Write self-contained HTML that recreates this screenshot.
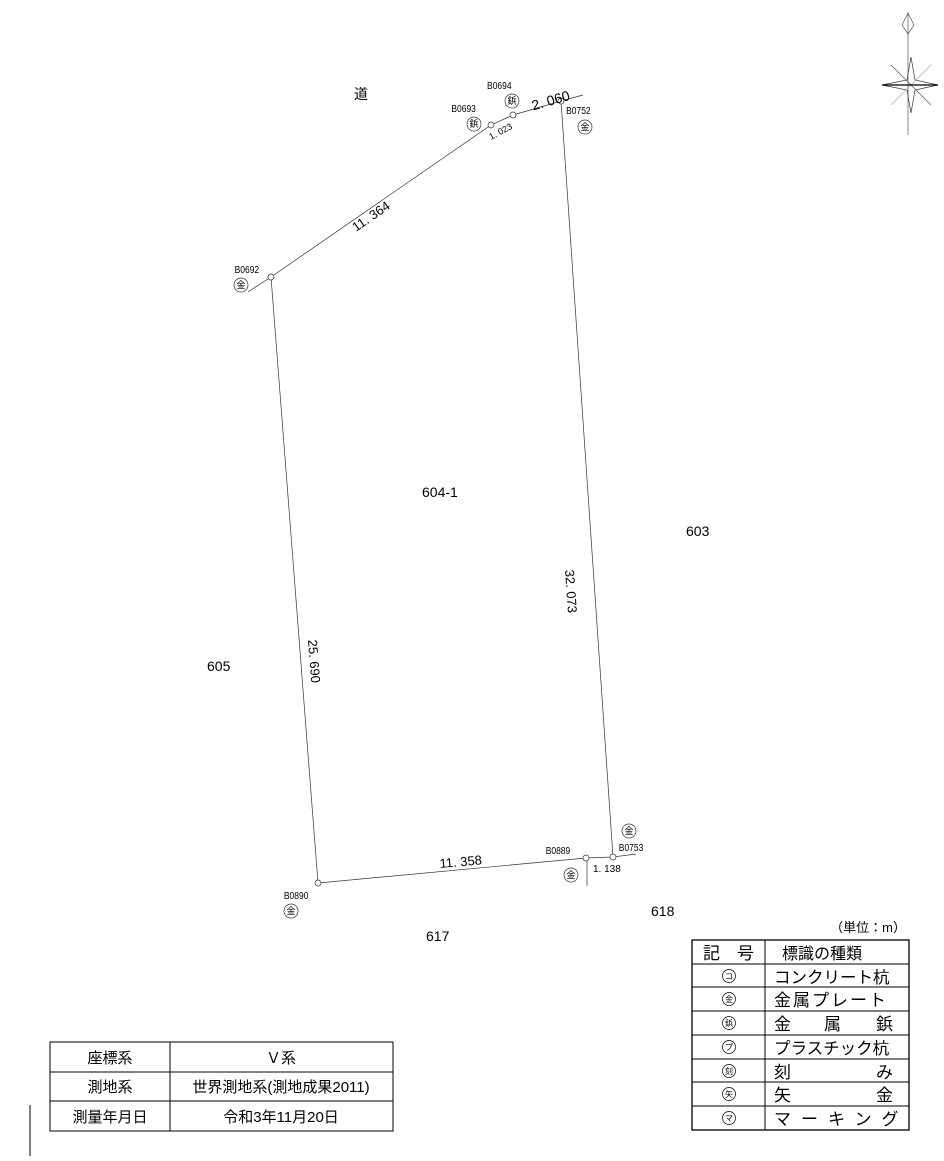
<!DOCTYPE html>
<html><head><meta charset="utf-8"><style>
body{margin:0;background:#fff}
svg text{font-family:"Liberation Sans","Noto Sans CJK JP",sans-serif;fill:#000}
</style></head><body>
<svg width="944" height="1156" viewBox="0 0 944 1156" xmlns="http://www.w3.org/2000/svg">
<g stroke="#333" stroke-width="0.7" fill="none">
<polyline points="248,292 271,277 491,125 513,115 561,101 583,95"/>
<line x1="271" y1="277" x2="318" y2="883"/>
<line x1="561" y1="101" x2="613" y2="857"/>
<polyline points="318,883 586,858 613,857 636,854"/>
<line x1="587" y1="858" x2="587" y2="886"/>
<g fill="#fff">
<circle cx="271" cy="277" r="3"/><circle cx="491" cy="125" r="3"/><circle cx="513" cy="115" r="3"/>
<circle cx="561" cy="101" r="3"/><circle cx="613" cy="857" r="3"/><circle cx="586" cy="858" r="3"/><circle cx="318" cy="883" r="3"/>
</g>
<g stroke-width="0.7">
<circle cx="241" cy="285" r="7"/><circle cx="474" cy="124" r="7"/><circle cx="512" cy="101" r="7"/>
<circle cx="585" cy="127" r="7"/><circle cx="629" cy="831" r="7"/><circle cx="571" cy="875" r="7"/><circle cx="291" cy="911" r="7"/>
</g>
<!-- compass -->
<line x1="908" y1="12" x2="908" y2="135" stroke="#555"/>
<polygon points="908,13 914,25 908,34 902,25" stroke="#555"/>
<polygon points="911,57 915,80 938,85 915,90 911,113 907,90 882,85 907,80" stroke="#333"/>
<line x1="891" y1="65" x2="931" y2="105" stroke="#555"/>
<line x1="931" y1="65" x2="891" y2="105" stroke="#aaa"/>
<line x1="882" y1="85" x2="938" y2="85" stroke="#000" stroke-width="1.2"/>
</g>
<g font-size="9" text-anchor="middle">
<text x="241" y="288">金</text><text x="474" y="127">鋲</text><text x="512" y="104">鋲</text>
<text x="585" y="130">金</text><text x="629" y="834">金</text><text x="571" y="878">金</text><text x="291" y="914">金</text>
</g>
<g font-size="10" transform="scale(0.85,1)">
<text x="276" y="273">B0692</text>
<text x="531" y="112">B0693</text>
<text x="573" y="89">B0694</text>
<text x="666" y="114">B0752</text>
<text x="642" y="854">B0889</text>
<text x="728" y="851">B0753</text>
<text x="334" y="899">B0890</text>
</g>
<text x="354" y="99" font-size="14">道</text>
<text x="531" y="106" font-size="14" transform="rotate(-16 548 100)">2. 060</text>
<text x="491" y="140" font-size="9" transform="rotate(-28 491 140)">1. 023</text>
<text x="593" y="872" font-size="10">1. 138</text>
<text x="356" y="232" font-size="13" transform="rotate(-34.6 356 232)">11. 364</text>
<text x="308" y="640" font-size="13" transform="rotate(85.6 308 640)">25. 690</text>
<text x="565" y="570" font-size="13" transform="rotate(86 565 570)">32. 073</text>
<text x="440" y="868" font-size="13" transform="rotate(-5 440 868)">11. 358</text>
<g font-size="14">
<text x="422" y="497">604-1</text><text x="686" y="536">603</text><text x="207" y="671">605</text>
<text x="651" y="916">618</text><text x="426" y="941">617</text>
</g>
<text x="906" y="932" font-size="13" text-anchor="end">（単位：m）</text>
<g stroke="#000" fill="none" stroke-width="1">
<rect x="692" y="940" width="217" height="190" stroke-width="1.3"/>
<line x1="765" y1="940" x2="765" y2="1130"/>
<line x1="692" y1="964" x2="909" y2="964"/><line x1="692" y1="987" x2="909" y2="987"/>
<line x1="692" y1="1011" x2="909" y2="1011"/><line x1="692" y1="1035" x2="909" y2="1035"/>
<line x1="692" y1="1059" x2="909" y2="1059"/><line x1="692" y1="1082" x2="909" y2="1082"/>
<line x1="692" y1="1106" x2="909" y2="1106"/>
<g stroke-width="0.7"><circle cx="729" cy="976" r="6.5"/><circle cx="729" cy="999" r="6.5"/><circle cx="729" cy="1023" r="6.5"/><circle cx="729" cy="1047" r="6.5"/><circle cx="729" cy="1071" r="6.5"/><circle cx="729" cy="1094" r="6.5"/><circle cx="729" cy="1118" r="6.5"/></g>
<rect x="50" y="1042" width="343" height="89"/>
<line x1="170" y1="1042" x2="170" y2="1131"/>
<line x1="50" y1="1072" x2="393" y2="1072"/><line x1="50" y1="1101" x2="393" y2="1101"/>
<line x1="30" y1="1105" x2="30" y2="1156"/>
</g>
<g font-size="8" text-anchor="middle">
<text x="729" y="979">コ</text><text x="729" y="1002">金</text><text x="729" y="1026">鋲</text><text x="729" y="1050">プ</text><text x="729" y="1074">刻</text><text x="729" y="1097">矢</text><text x="729" y="1121">マ</text>
</g>
<g font-size="17">
<text x="703" y="959">記　号</text><text x="782" y="959" font-size="16">標識の種類</text>
<text x="774" y="983" font-size="16.5">コンクリート杭</text>
<text x="774" y="1006" letter-spacing="2">金属プレート</text>
<text x="774" y="1030">金</text><text x="824" y="1030">属</text><text x="876" y="1030">鋲</text>
<text x="774" y="1054" font-size="16.5">プラスチック杭</text>
<text x="774" y="1078">刻</text><text x="876" y="1078">み</text>
<text x="774" y="1101">矢</text><text x="876" y="1101">金</text>
<text x="774" y="1125" letter-spacing="10">マーキング</text>
</g>
<g font-size="15" text-anchor="middle">
<text x="110" y="1063">座標系</text><text x="281" y="1063">Ｖ系</text>
<text x="110" y="1092">測地系</text><text x="281" y="1092">世界測地系(測地成果2011)</text>
<text x="110" y="1122">測量年月日</text><text x="281" y="1122">令和3年11月20日</text>
</g>
</svg>
</body></html>
